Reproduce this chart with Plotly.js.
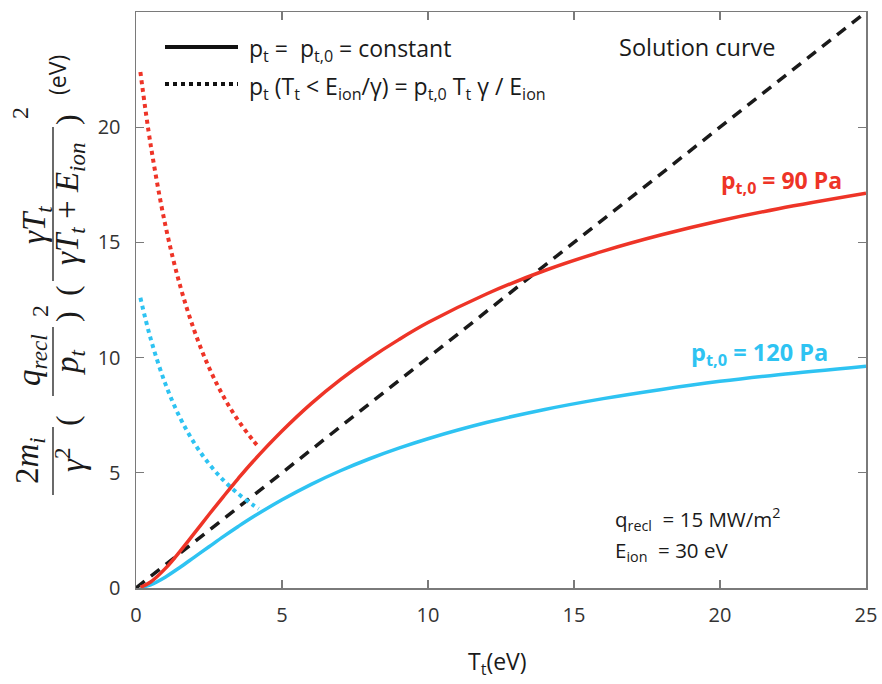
<!DOCTYPE html>
<html>
<head>
<meta charset="utf-8">
<script src="https://cdn.plot.ly/plotly-3.0.1.min.js"></script>
<style>html,body{margin:0;padding:0;background:#fff;}#chart{width:882px;height:684px;}</style>
</head>
<body>
<div id="chart"></div>
<script>
// ---- data ----
var T_solid = [0.15, 0.5, 1, 1.5, 2, 2.5, 3, 3.5, 4, 5, 6, 7, 8, 9, 10, 12, 14, 16, 18, 20, 22, 25];
var red_solid = [0.03, 0.26, 0.84, 1.58, 2.38, 3.19, 3.98, 4.75, 5.48, 6.81, 8.00, 9.04, 9.96, 10.78, 11.52, 12.76, 13.78, 14.62, 15.33, 15.94, 16.46, 17.13];
var blue_solid = [0.02, 0.14, 0.47, 0.89, 1.34, 1.79, 2.24, 2.67, 3.08, 3.83, 4.50, 5.09, 5.61, 6.07, 6.48, 7.18, 7.75, 8.22, 8.62, 8.97, 9.26, 9.63];
var T_dot = [0.15, 0.5, 1, 1.5, 2, 2.5, 3, 3.5, 4, 4.2];
var red_dot = [22.40, 19.25, 15.78, 13.17, 11.16, 9.57, 8.30, 7.27, 6.42, 6.12];
var blue_dot = [12.60, 10.83, 8.88, 7.41, 6.28, 5.39, 4.67, 4.09, 3.61, 3.44];
var T_line = [0, 25];
var sol_line = [0, 25];
var xTicks = [0, 5, 10, 15, 20, 25];
var yTicks = [0, 5, 10, 15, 20, 25];

var RED = '#ee3427', BLUE = '#2ec3f2';

// plot area in pixels
var L = 136, R = 866, TOP = 12, BOT = 588;
function px(x){ return (x - L) / (R - L); }
function py(y){ return (BOT - y) / (BOT - TOP); }

var traces = [
  {x: T_line, y: sol_line, mode: 'lines', line: {color: '#1a1a1a', width: 3.5, dash: '11px,8px'}, showlegend: false, hoverinfo: 'skip'},
  {x: T_dot, y: red_dot, mode: 'lines', line: {color: RED, width: 4, dash: '4px,4px', shape: 'spline'}, showlegend: false},
  {x: T_dot, y: blue_dot, mode: 'lines', line: {color: BLUE, width: 4, dash: '4px,4px', shape: 'spline'}, showlegend: false},
  {x: T_solid, y: blue_solid, mode: 'lines', line: {color: BLUE, width: 3.5, shape: 'spline'}, showlegend: false},
  {x: T_solid, y: red_solid, mode: 'lines', line: {color: RED, width: 3.5, shape: 'spline'}, showlegend: false}
];

var SANS = '"Open Sans", "Noto Sans", sans-serif';
var SERIF = '"Liberation Serif", "DejaVu Serif", serif';
var TXT = '#1a1a1a';

function ann(text, x, y, opts){
  var a = {text: text, x: px(x), y: py(y), xref: 'paper', yref: 'paper', showarrow: false,
           xanchor: 'center', yanchor: 'middle', font: {family: SANS, size: 20, color: TXT}};
  for (var k in opts){ a[k] = opts[k]; }
  return a;
}
function serif(size){ return {family: SERIF, size: size, color: TXT}; }
function sans(size, color){ return {family: SANS, size: size, color: color || TXT}; }

var annotations = [
  // legend texts
  ann('p<sub>t</sub> =  p<sub>t,0</sub> = constant', 247, 49, {xanchor: 'left', font: sans(23)}),
  ann('p<sub>t</sub> (T<sub>t</sub> &lt; E<sub>ion</sub>/γ) = p<sub>t,0</sub> T<sub>t</sub> γ / E<sub>ion</sub>', 247, 88, {xanchor: 'left', font: sans(23)}),
  ann('Solution curve', 617, 47, {xanchor: 'left', font: sans(23.5)}),
  ann('<b>p<sub>t,0</sub> = 90 Pa</b>', 844, 181, {xanchor: 'right', font: sans(23, RED)}),
  ann('<b>p<sub>t,0</sub> = 120 Pa</b>', 830, 353, {xanchor: 'right', font: sans(23.5, BLUE)}),
  ann('q<sub>recl</sub>  = 15 MW/m<sup>2</sup>', 613, 519, {xanchor: 'left', font: sans(20.5)}),
  ann('E<sub>ion</sub>  = 30 eV', 613, 551, {xanchor: 'left', font: sans(20.5)}),
  // x-axis title
  ann('T<sub>t</sub>(eV)', 497, 662, {font: sans(23)}),
  // y-axis formula (rotated pieces)
  ann('2<i>m<sub>i</sub></i>', 29, 461, {textangle: -90, font: serif(33)}),
  ann('<i>γ</i><sup>2</sup>', 70, 460, {textangle: -90, font: serif(33)}),
  ann('(', 67, 421, {textangle: -90, font: serif(32)}),
  ann('<i>q<sub>recl</sub></i>', 31, 360, {textangle: -90, font: serif(33)}),
  ann('<i>p<sub>t</sub></i>', 69, 362, {textangle: -90, font: serif(33)}),
  ann(')', 67, 317, {textangle: -90, font: serif(32)}),
  ann('2', 40, 311, {textangle: -90, font: serif(24)}),
  ann('(', 67, 291, {textangle: -90, font: serif(32)}),
  ann('<i>γT<sub>t</sub></i>', 37, 225, {textangle: -90, font: serif(33)}),
  ann('<i>γT<sub>t</sub></i> + <i>E<sub>ion</sub></i>', 69, 204, {textangle: -90, font: serif(33)}),
  ann(')', 67, 120, {textangle: -90, font: serif(32)}),
  ann('2', 20, 113, {textangle: -90, font: serif(24)}),
  ann('(eV)', 57, 75, {textangle: -90, font: sans(23)})
];

function pline(x0, y0, x1, y1, color, width, dash){
  return {type: 'line', xref: 'paper', yref: 'paper', x0: px(x0), y0: py(y0), x1: px(x1), y1: py(y1),
          line: {color: color, width: width, dash: dash || 'solid'}};
}
var shapes = [
  pline(165, 47, 238, 47, '#111', 4),
  pline(165, 84, 238, 84, '#111', 4, '4px,4px'),
  pline(53, 427, 53, 495, TXT, 1.3),
  pline(53, 327, 53, 396, TXT, 1.3),
  pline(53, 127, 53, 281, TXT, 1.3)
];

var axisCommon = {
  showgrid: false, zeroline: false, showline: true, linecolor: '#7a7a7a', linewidth: 1.5,
  mirror: 'ticks', ticks: 'inside', ticklen: 8, tickwidth: 1.2, tickcolor: '#7a7a7a',
  tickfont: {family: SANS, size: 20, color: '#333'}, fixedrange: true
};

var layout = {
  width: 882, height: 684,
  margin: {l: L, r: 882 - R, t: TOP, b: 684 - BOT, pad: 0},
  paper_bgcolor: '#fff', plot_bgcolor: '#fff',
  showlegend: false,
  xaxis: Object.assign({}, axisCommon, {range: [0, 25], tickmode: 'array', tickvals: xTicks, ticktext: xTicks.map(String), ticklabelstandoff: 8}),
  yaxis: Object.assign({}, axisCommon, {range: [0, 25], tickmode: 'array', tickvals: yTicks, ticktext: yTicks.map(String), ticklabelstandoff: 10}),
  annotations: annotations,
  shapes: shapes
};

Plotly.newPlot('chart', traces, layout, {displayModeBar: false, staticPlot: true});
</script>
</body>
</html>
